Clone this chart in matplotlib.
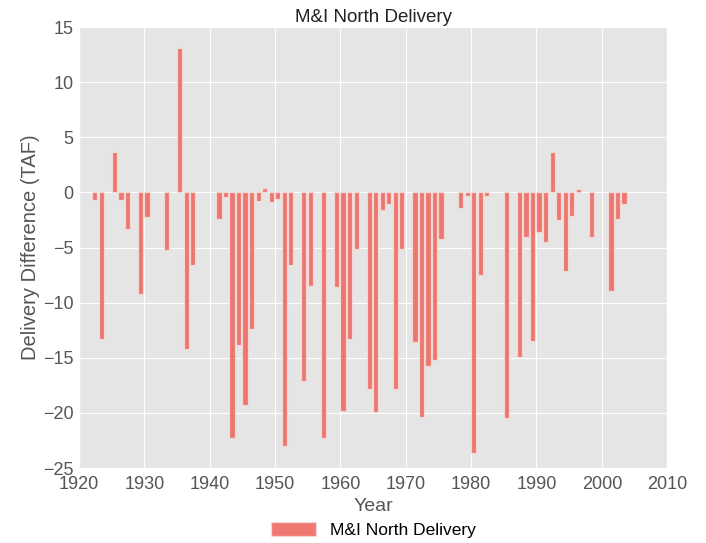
import matplotlib
matplotlib.use("Agg")
import matplotlib.pyplot as plt

plt.style.use("ggplot")
plt.rcParams['font.family'] = ['Liberation Sans', 'DejaVu Sans']

years = [1922, 1923, 1925, 1926, 1927, 1929, 1930, 1933, 1935, 1936, 1937,
         1941, 1942, 1943, 1944, 1945, 1946, 1947, 1948, 1949, 1950,
         1951, 1952, 1954, 1955, 1957, 1959, 1960, 1961, 1962,
         1964, 1965, 1966, 1967, 1968, 1969, 1971, 1972, 1973, 1974, 1975,
         1978, 1979, 1980, 1981, 1982, 1985, 1987, 1988, 1989, 1990,
         1991, 1992, 1993, 1994, 1995, 1996, 1998, 2001, 2002, 2003]
values = [-0.7, -13.3, 3.7, -0.7, -3.3, -9.2, -2.2, -5.2, 13.1, -14.2, -6.6,
          -2.4, -0.4, -22.3, -13.8, -19.3, -12.4, -0.8, 0.4, -0.9, -0.6,
          -23.0, -6.6, -17.1, -8.5, -22.3, -8.6, -19.8, -13.3, -5.1,
          -17.8, -19.9, -1.6, -1.0, -17.8, -5.1, -13.6, -20.4, -15.7, -15.2, -4.2,
          -1.4, -0.3, -23.6, -7.5, -0.3, -20.5, -14.9, -4.0, -13.5, -3.6,
          -4.5, 3.7, -2.5, -7.1, -2.1, 0.3, -4.0, -8.9, -2.4, -1.0]
series_label = "M&I North Delivery"

fig = plt.figure(figsize=(7.06, 5.43), dpi=100)
ax = fig.add_axes([0.112, 0.138, 0.833, 0.812])
ax.bar(years, values, width=0.8, align='edge', color='#EE6A62', alpha=0.9,
       edgecolor='#F2DCDA', linewidth=0.9, label=series_label)
ax.set_xlim(1920, 2010)
ax.set_ylim(-25, 15)
ax.set_xticks(range(1920, 2011, 10))
ax.set_yticks(range(-25, 16, 5))
ax.tick_params(labelsize=13, colors='#555555', length=0)
ax.tick_params(axis='x', pad=6)
ax.tick_params(axis='y', pad=4)
ax.set_title("M&I North Delivery", fontsize=13.5, color='#222222', pad=4)
ax.set_xlabel("Year", fontsize=14, color='#555555', labelpad=3)
ax.set_ylabel("Delivery Difference (TAF)", fontsize=14.5, color='#555555', labelpad=2)
ax.legend(loc='upper center', bbox_to_anchor=(0.5, -0.115), frameon=False,
          fontsize=12.5, ncol=1, handlelength=2.6, handleheight=0.8,
          borderaxespad=0, borderpad=0.2)
fig.savefig("out.png", dpi=100)
